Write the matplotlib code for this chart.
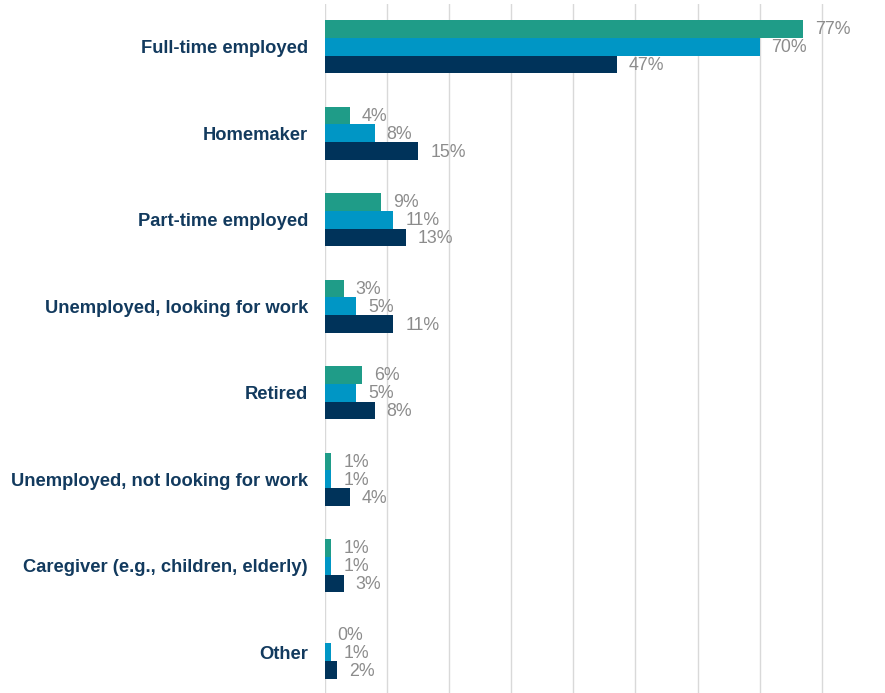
import matplotlib
matplotlib.use("Agg")
import matplotlib.pyplot as plt
import numpy as np

plt.rcParams['font.family'] = ['Liberation Sans', 'DejaVu Sans']

categories = [
    "Full-time employed",
    "Homemaker",
    "Part-time employed",
    "Unemployed, looking for work",
    "Retired",
    "Unemployed, not looking for work",
    "Caregiver (e.g., children, elderly)",
    "Other",
]
series_a = [77, 4, 9, 3, 6, 1, 1, 0]
series_b = [70, 8, 11, 5, 5, 1, 1, 1]
series_c = [47, 15, 13, 11, 8, 4, 3, 2]
x_ticks = [0, 10, 20, 30, 40, 50, 60, 70, 80]

colors = ["#1F9C88", "#0096C5", "#00335A"]
label_color = "#8C8C8C"
cat_color = "#123A5E"

fig = plt.figure(figsize=(8.85, 6.93), dpi=100)
ax = fig.add_axes([325 / 885, -2.5 / 693, 560 / 885, 692 / 693])

y = np.arange(len(categories))
h = 0.206
for i, (vals, col) in enumerate(zip([series_a, series_b, series_c], colors)):
    pos = y + (i - 1) * h
    ax.barh(pos, vals, height=h, color=col, zorder=3)
    for p, v in zip(pos, vals):
        ax.annotate(f"{v}%", xy=(v, p), xytext=(12, -1), textcoords="offset pixels",
                    ha="left", va="center", fontsize=12.8, color=label_color)

ax.set_xlim(0, 90.2)
ax.set_ylim(len(categories) - 0.5, -0.5)
ax.set_xticks(x_ticks)
ax.set_xticklabels([])
ax.xaxis.grid(True, color="#D9D9D9", linewidth=1, zorder=0)
ax.tick_params(axis="both", length=0)
ax.tick_params(axis="y", pad=12.2)
ax.set_yticks(y)
ax.set_yticklabels(categories, fontsize=13.2, fontweight="bold", color=cat_color)
for s in ax.spines.values():
    s.set_visible(False)

fig.savefig("out.png", dpi=100)
